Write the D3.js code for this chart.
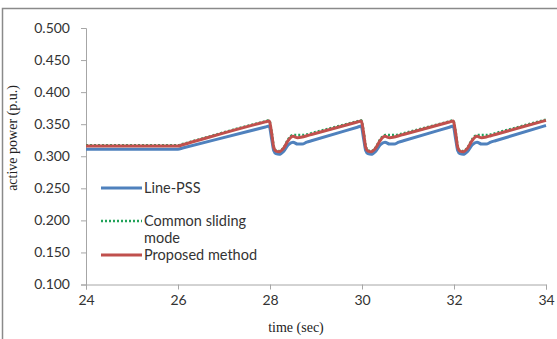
<!DOCTYPE html>
<html>
<head>
<meta charset="utf-8">
<script src="https://cdn.jsdelivr.net/npm/d3@7"></script>
<style>
  body { margin: 0; background: #fff; }
  svg { display: block; }
</style>
</head>
<body>
<div id="chart"></div>
<script>
// temps (s)
const time = [24, 26, 26.1, 27.9, 27.98, 28.04, 28.08, 28.13, 28.2, 28.3, 28.4, 28.5, 28.6, 28.7, 28.8, 28.9,
  29.9, 29.98, 30.04, 30.08, 30.13, 30.2, 30.3, 30.4, 30.5, 30.6, 30.7, 30.8, 30.9,
  31.9, 31.98, 32.04, 32.08, 32.13, 32.2, 32.3, 32.4, 32.5, 32.6, 32.7, 32.8, 32.9, 34];

const linePSS = [0.311, 0.311, 0.3128, 0.3456, 0.347, 0.325, 0.309, 0.304, 0.303, 0.308, 0.318, 0.322, 0.319, 0.319, 0.322, 0.3241,
  0.3453, 0.347, 0.325, 0.309, 0.304, 0.303, 0.308, 0.318, 0.322, 0.319, 0.319, 0.322, 0.3241,
  0.3453, 0.347, 0.325, 0.309, 0.304, 0.303, 0.308, 0.318, 0.322, 0.319, 0.319, 0.322, 0.3242, 0.348];

const commonSliding = [0.317, 0.317, 0.319, 0.3546, 0.356, 0.336, 0.316, 0.309, 0.308, 0.314, 0.327, 0.333, 0.333, 0.333, 0.334, 0.3359,
  0.3545, 0.356, 0.336, 0.316, 0.309, 0.308, 0.314, 0.327, 0.333, 0.333, 0.333, 0.334, 0.3359,
  0.3545, 0.356, 0.336, 0.316, 0.309, 0.308, 0.314, 0.327, 0.333, 0.333, 0.333, 0.334, 0.336, 0.357];

const proposed = [0.316, 0.316, 0.318, 0.3536, 0.355, 0.334, 0.314, 0.308, 0.307, 0.313, 0.325, 0.331, 0.329, 0.330, 0.332, 0.3339,
  0.3534, 0.355, 0.334, 0.314, 0.308, 0.307, 0.313, 0.325, 0.331, 0.329, 0.330, 0.332, 0.3339,
  0.3534, 0.355, 0.334, 0.314, 0.308, 0.307, 0.313, 0.325, 0.331, 0.329, 0.330, 0.332, 0.334, 0.356];

const xTicks = [24, 26, 28, 30, 32, 34];
const yTicks = [0.1, 0.15, 0.2, 0.25, 0.3, 0.35, 0.4, 0.45, 0.5];
const seriesNames = ["Line-PSS", "Common sliding mode", "Proposed method"];

const w = 557, h = 339;
const margin = { top: 28, right: 11, bottom: 55, left: 86 };

const svg = d3.select("#chart").append("svg")
  .attr("width", w).attr("height", h);

// cadre extérieur (coupé à droite et en bas)
svg.append("path")
  .attr("d", `M2.5,${h} L2.5,8.5 L${w},8.5`)
  .attr("fill", "none")
  .attr("stroke", "#8a8a8a")
  .attr("stroke-width", 1.5);

const x = d3.scaleLinear().domain([24, 34]).range([margin.left, w - margin.right]);
const y = d3.scaleLinear().domain([0.1, 0.5]).range([h - margin.bottom + 0.5, margin.top]);

const xAxis = svg.append("g")
  .attr("transform", `translate(0,${y(0.1)})`)
  .call(d3.axisBottom(x).tickValues(xTicks).tickFormat(d3.format("d")).tickSize(5).tickPadding(6));

const yAxis = svg.append("g")
  .attr("transform", `translate(${x(24)},0)`)
  .call(d3.axisLeft(y).tickValues(yTicks).tickFormat(d3.format(".3f")).tickSize(5).tickPadding(11));

[xAxis, yAxis].forEach(a => {
  a.select(".domain").attr("stroke", "#a6a6a6");
  a.selectAll(".tick line").attr("stroke", "#a6a6a6");
  a.selectAll("text")
    .style("font-family", "Lato, 'Open Sans', sans-serif")
    .style("font-size", "14px")
    .attr("fill", "#333");
});

const line = vals => d3.line()
  .x((d, i) => x(time[i]))
  .y(d => y(d))
  .curve(d3.curveMonotoneX)(vals);

svg.append("path").attr("d", line(linePSS))
  .attr("fill", "none").attr("stroke", "#4f81bd").attr("stroke-width", 3);
svg.append("path").attr("d", line(commonSliding))
  .attr("fill", "none").attr("stroke", "#22a35a").attr("stroke-width", 2.5)
  .attr("stroke-dasharray", "2,2");
svg.append("path").attr("d", line(proposed))
  .attr("fill", "none").attr("stroke", "#c0504d").attr("stroke-width", 3);

// légende
const legend = svg.append("g").attr("class", "legend")
  .style("font-family", "Lato, 'Open Sans', sans-serif")
  .style("font-size", "14.5px")
  .attr("fill", "#333");

const lgY = [188, 221, 255];
const lgStyle = [
  { c: "#4f81bd", dash: null, sw: 3 },
  { c: "#22a35a", dash: "2,2", sw: 2.5 },
  { c: "#c0504d", dash: null, sw: 3 }
];
lgY.forEach((ly, i) => {
  legend.append("line")
    .attr("x1", 101).attr("x2", 142).attr("y1", ly).attr("y2", ly)
    .attr("stroke", lgStyle[i].c).attr("stroke-width", lgStyle[i].sw)
    .attr("stroke-dasharray", lgStyle[i].dash);
});
legend.append("text").attr("x", 144).attr("y", 188).attr("dy", "0.35em").text(seriesNames[0]);
legend.append("text").attr("x", 144).attr("y", 221).attr("dy", "0.35em").text("Common sliding");
legend.append("text").attr("x", 144).attr("y", 238).attr("dy", "0.35em").text("mode");
legend.append("text").attr("x", 144).attr("y", 255).attr("dy", "0.35em").text(seriesNames[2]);

// titres des axes
svg.append("text")
  .attr("x", 296).attr("y", 332)
  .attr("text-anchor", "middle")
  .style("font-family", "'Liberation Serif', 'DejaVu Serif', serif")
  .style("font-size", "14px")
  .attr("fill", "#222")
  .text("time (sec)");

svg.append("text")
  .attr("transform", `translate(17,138) rotate(-90)`)
  .attr("text-anchor", "middle")
  .style("font-family", "'Liberation Serif', 'DejaVu Serif', serif")
  .style("font-size", "14px")
  .attr("fill", "#222")
  .text("active power (p.u.)");
</script>
</body>
</html>
